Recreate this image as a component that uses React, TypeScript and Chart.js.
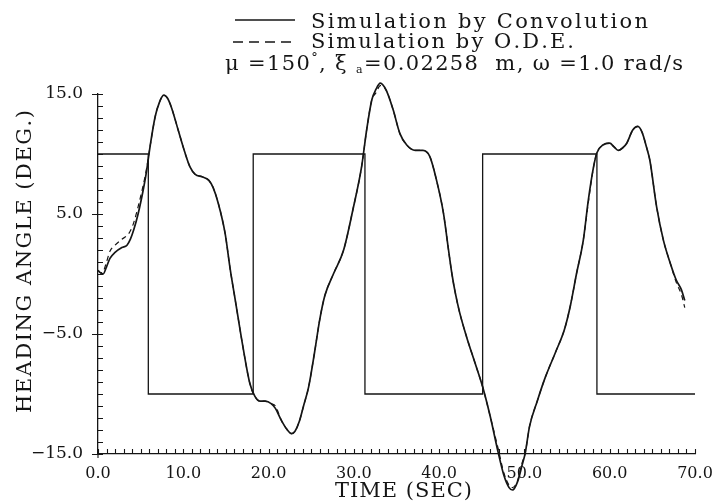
import React, { useEffect, useRef } from 'react';
import { Chart, registerables } from 'chart.js';

Chart.register(...registerables);

// ---- data ----
const timeSec = [
  0, 0.3, 0.6, 1.0, 1.4, 2.0, 2.8, 3.4, 3.8, 4.2, 4.7, 5.3, 5.7, 6.1, 6.7, 7.2, 7.7, 8.1, 8.6, 9.4,
  10.2, 10.8, 11.4, 12.2, 13.0, 13.5, 14.1, 14.9, 15.5, 16.1, 17.0, 17.8, 18.4, 19.0, 19.6, 20.3, 20.8,
  21.5, 22.1, 22.7, 23.1, 23.6, 24.1, 24.7, 25.4, 26.0, 26.6, 27.6, 28.8, 29.9, 30.9, 31.5, 32.1, 32.6,
  33.1, 33.8, 34.6, 35.4, 36.2, 37.2, 38.1, 38.9, 39.7, 40.5, 41.1, 41.5, 41.9, 42.4, 43.2, 44.2, 45.1,
  46.0, 46.9, 47.6, 48.2, 48.6, 49.2, 49.7, 50.1, 50.6, 51.5, 52.4, 53.6, 54.7, 55.4, 56.1, 56.9, 57.5,
  58.1, 58.5, 59.2, 60.0, 60.5, 61.0, 61.5, 62.0, 62.7, 63.3, 63.8, 64.3, 64.7, 65.5, 66.3, 67.1, 67.8,
  68.4, 68.8,
];

const convolution = [
  0.3, 0.1, 0.0, 0.6, 1.3, 1.8, 2.2, 2.4, 2.9, 3.7, 5.0, 7.0, 8.6, 10.6, 13.1, 14.3, 14.9, 14.7, 13.9, 12.0,
  10.1, 8.9, 8.3, 8.1, 7.8, 7.2, 5.9, 3.4, 0.4, -2.2, -6.1, -9.1, -10.2, -10.6, -10.6, -10.8, -11.2,
  -12.2, -12.9, -13.3, -13.1, -12.3, -11.0, -9.4, -6.5, -3.8, -1.8, 0.0, 2.0, 5.4, 8.9, 12.0, 14.5, 15.4,
  15.9, 15.3, 13.7, 11.7, 10.75, 10.3, 10.3, 9.8, 7.8, 5.1, 2.0, 0.0, -1.6, -3.2, -5.2, -7.4, -9.4,
  -11.9, -14.8, -16.8, -17.8, -18.0, -17.3, -16.0, -14.9, -12.7, -10.6, -8.7, -6.6, -4.6, -2.6, 0.0, 2.8, 6.2,
  8.9, 10.1, 10.75, 10.9, 10.6, 10.3, 10.5, 10.9, 12.0, 12.3, 11.8, 10.6, 9.5, 5.6, 2.8, 0.9, -0.5,
  -1.3, -2.2,
];

const ode = [
  0.3, 0.1, 0.2, 1.0, 1.9, 2.4, 2.9, 3.2, 3.6, 4.3, 5.6, 7.4, 8.8, 10.6, 13.1, 14.3, 14.9, 14.7, 13.9, 12.0,
  10.1, 8.9, 8.3, 8.1, 7.8, 7.2, 5.9, 3.4, 0.4, -2.2, -6.1, -9.1, -10.2, -10.6, -10.6, -10.8, -11.0,
  -12.2, -12.9, -13.3, -13.1, -12.3, -11.0, -9.4, -6.5, -3.8, -1.8, 0.0, 2.0, 5.4, 8.9, 12.0, 14.5, 15.1,
  15.7, 15.3, 13.7, 11.7, 10.75, 10.3, 10.3, 9.8, 7.8, 5.1, 2.0, 0.0, -1.6, -3.2, -5.2, -7.4, -9.4,
  -11.9, -14.5, -16.6, -17.6, -17.8, -17.2, -15.8, -14.9, -12.7, -10.6, -8.7, -6.6, -4.6, -2.6, 0.0, 2.8, 6.0,
  8.9, 10.1, 10.75, 10.9, 10.6, 10.3, 10.5, 10.9, 12.0, 12.3, 11.8, 10.6, 9.5, 5.6, 2.8, 0.9, -0.7,
  -1.7, -2.8,
];

const rudderTime = [0, 5.9, 5.9, 18.2, 18.2, 31.3, 31.3, 45.1, 45.1, 58.5, 58.5, 70];
const rudderAngle = [10, 10, -10, -10, 10, 10, -10, -10, 10, 10, -10, -10];

const xTickValues = [0, 10, 20, 30, 40, 50, 60, 70];
const yTickValues = [-15, -5, 5, 15];

const legendLabels = ['Simulation by Convolution', 'Simulation by O.D.E.'];
const xTitle = 'TIME (SEC)';
const yTitle = 'HEADING ANGLE (DEG.)';

const INK = '#151515';
const SERIF = '"DejaVu Serif", serif';

type Part = { text: string; font: string; dy?: number };

function drawSpaced(ctx: CanvasRenderingContext2D, parts: Part[], x0: number, x1: number, y: number) {
  let natural = 0;
  let n = 0;
  for (const p of parts) {
    ctx.font = p.font;
    for (const ch of Array.from(p.text)) {
      natural += ctx.measureText(ch).width;
      n++;
    }
  }
  const ls = n > 1 ? (x1 - x0 - natural) / (n - 1) : 0;
  let x = x0;
  for (const p of parts) {
    ctx.font = p.font;
    for (const ch of Array.from(p.text)) {
      ctx.fillText(ch, x, y + (p.dy || 0));
      x += ctx.measureText(ch).width + ls;
    }
  }
}

const fmt = (v: number) => (v < 0 ? '\u2212' + Math.abs(v).toFixed(1) : v.toFixed(1));

const decorPlugin = {
  id: 'decor',
  beforeDraw(chart: any) {
    const { ctx } = chart;
    ctx.save();
    ctx.fillStyle = '#ffffff';
    ctx.fillRect(0, 0, chart.width, chart.height);
    ctx.restore();
  },
  afterDraw(chart: any) {
    const { ctx, chartArea } = chart;
    const xs = chart.scales.x;
    const ys = chart.scales.y;
    ctx.save();
    ctx.strokeStyle = INK;
    ctx.fillStyle = INK;
    ctx.lineWidth = 1.1;
    // minor/major ticks (inward)
    ctx.beginPath();
    for (let v = -15; v <= 15; v++) {
      const py = Math.round(ys.getPixelForValue(v)) + 0.5;
      const major = yTickValues.includes(v);
      ctx.moveTo(chartArea.left - (major ? 6 : 0), py);
      ctx.lineTo(chartArea.left + 5, py);
    }
    for (let v = 0; v <= 70; v++) {
      const px = Math.round(xs.getPixelForValue(v)) + 0.5;
      ctx.moveTo(px, chartArea.bottom);
      ctx.lineTo(px, chartArea.bottom - 5);
    }
    ctx.moveTo(chartArea.left, chartArea.bottom);
    ctx.lineTo(chartArea.left, chartArea.bottom + 4);
    ctx.stroke();

    // legend samples
    ctx.lineWidth = 1.5;
    ctx.beginPath();
    ctx.moveTo(235, 20);
    ctx.lineTo(295, 20);
    ctx.stroke();
    ctx.lineWidth = 1.3;
    ctx.setLineDash([10, 6]);
    ctx.beginPath();
    ctx.moveTo(233, 42);
    ctx.lineTo(296, 42);
    ctx.stroke();
    ctx.setLineDash([]);

    // legend texts
    ctx.textBaseline = 'alphabetic';
    ctx.textAlign = 'left';
    const f21 = `21px ${SERIF}`;
    drawSpaced(ctx, [{ text: legendLabels[0], font: f21 }], 311, 648, 28);
    drawSpaced(ctx, [{ text: legendLabels[1], font: f21 }], 311, 574, 48);
    drawSpaced(
      ctx,
      [
        { text: '\u03bc =150', font: f21 },
        { text: '\u00b0', font: `13px ${SERIF}`, dy: -8 },
        { text: ', \u03be ', font: f21 },
        { text: 'a', font: `11px ${SERIF}`, dy: 3 },
        { text: '=0.02258  m, \u03c9 =1.0 rad/s', font: f21 },
      ],
      225,
      683,
      70,
    );

    // axis titles
    const f22 = `21px ${SERIF}`;
    drawSpaced(ctx, [{ text: xTitle, font: f22 }], 335, 472, 497);
    ctx.translate(31, 413);
    ctx.rotate(-Math.PI / 2);
    drawSpaced(ctx, [{ text: yTitle, font: f22 }], 0, 303, 0);
    ctx.restore();
  },
};

export default function App() {
  const ref = useRef<HTMLCanvasElement | null>(null);
  useEffect(() => {
    if (!ref.current) return;
    const toXY = (t: number[], v: number[]) => t.map((x, i) => ({ x, y: v[i] }));
    const chart = new Chart(ref.current, {
      type: 'line',
      data: {
        datasets: [
          {
            label: 'Rudder',
            data: toXY(rudderTime, rudderAngle),
            borderColor: INK,
            borderWidth: 1.3,
            pointRadius: 0,
            tension: 0,
          },
          {
            label: legendLabels[0],
            data: toXY(timeSec, convolution),
            borderColor: INK,
            borderWidth: 1.7,
            pointRadius: 0,
            cubicInterpolationMode: 'monotone',
            clip: false,
          },
          {
            label: legendLabels[1],
            data: toXY(timeSec, ode),
            borderColor: INK,
            borderWidth: 1.2,
            borderDash: [5, 4],
            pointRadius: 0,
            cubicInterpolationMode: 'monotone',
            clip: false,
          },
        ] as any,
      },
      options: {
        animation: false,
        responsive: false,
        maintainAspectRatio: false,
        layout: { padding: { left: 0, top: 94, right: 18, bottom: 0 } },
        plugins: { legend: { display: false }, tooltip: { enabled: false } },
        scales: {
          x: {
            type: 'linear',
            min: 0,
            max: 70,
            grid: { display: true, drawOnChartArea: false, drawTicks: false },
            border: { display: true, color: INK, width: 1.3 },
            ticks: {
              color: INK,
              font: { family: SERIF, size: 16 },
              padding: 10,
              maxRotation: 0,
              autoSkip: false,
              callback: (v: any) => fmt(Number(v)),
            },
            afterBuildTicks: (s: any) => {
              s.ticks = xTickValues.map((value) => ({ value }));
            },
            afterFit: (s: any) => {
              s.height = 47;
              s.paddingLeft = 0;
              s.paddingRight = 0;
            },
          },
          y: {
            type: 'linear',
            min: -15,
            max: 15,
            grid: { display: true, drawOnChartArea: false, drawTicks: false },
            border: { display: true, color: INK, width: 1.3 },
            ticks: {
              color: INK,
              font: { family: SERIF, size: 17 },
              padding: 15,
              autoSkip: false,
              callback: (v: any) => fmt(Number(v)),
            },
            afterBuildTicks: (s: any) => {
              s.ticks = yTickValues.map((value) => ({ value }));
            },
            afterFit: (s: any) => {
              s.width = 98;
              s.paddingTop = 0;
              s.paddingBottom = 0;
            },
          },
        },
      } as any,
      plugins: [decorPlugin],
    });
    return () => chart.destroy();
  }, []);
  return (
    <div style={{ position: 'absolute', left: 0, top: 0, width: 713, height: 501, background: '#fff' }}>
      <canvas ref={ref} width={713} height={501} style={{ display: 'block' }} />
    </div>
  );
}
